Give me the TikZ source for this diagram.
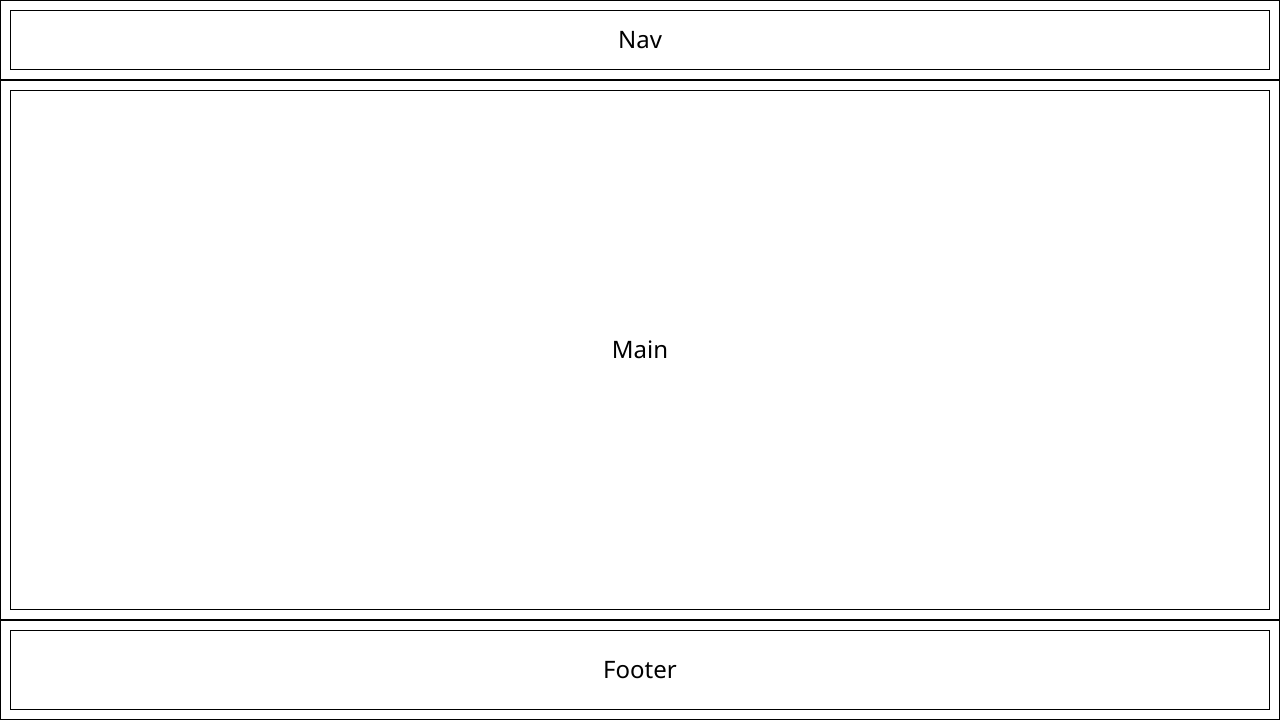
\documentclass[tikz,border=0pt]{standalone}
\usepackage{fontspec}
\setmainfont{Noto Sans}
\tikzset{
  section/.style={draw=black, line width=1pt},
  inner/.style={draw=black, line width=1pt, inner sep=0pt, font=\fontsize{24}{28}\selectfont},
}
\begin{document}
\begin{tikzpicture}[x=1pt,y=-1pt]
\useasboundingbox (0,0) rectangle (1280,720);
\fill[white] (0,0) rectangle (1280,720);
% sections
\draw[section] (0.5,0.5) rectangle (1279.5,79.5);
\draw[section] (0.5,80.5) rectangle (1279.5,619.5);
\draw[section] (0.5,620.5) rectangle (1279.5,719.5);
% inner boxes
\node[inner, minimum width=1259pt, minimum height=59pt] (nav) at (640,40) {Nav};
\node[inner, minimum width=1259pt, minimum height=519pt] (main) at (640,350) {Main};
\node[inner, minimum width=1259pt, minimum height=79pt] (footer) at (640,670) {Footer};
\end{tikzpicture}
\end{document}
